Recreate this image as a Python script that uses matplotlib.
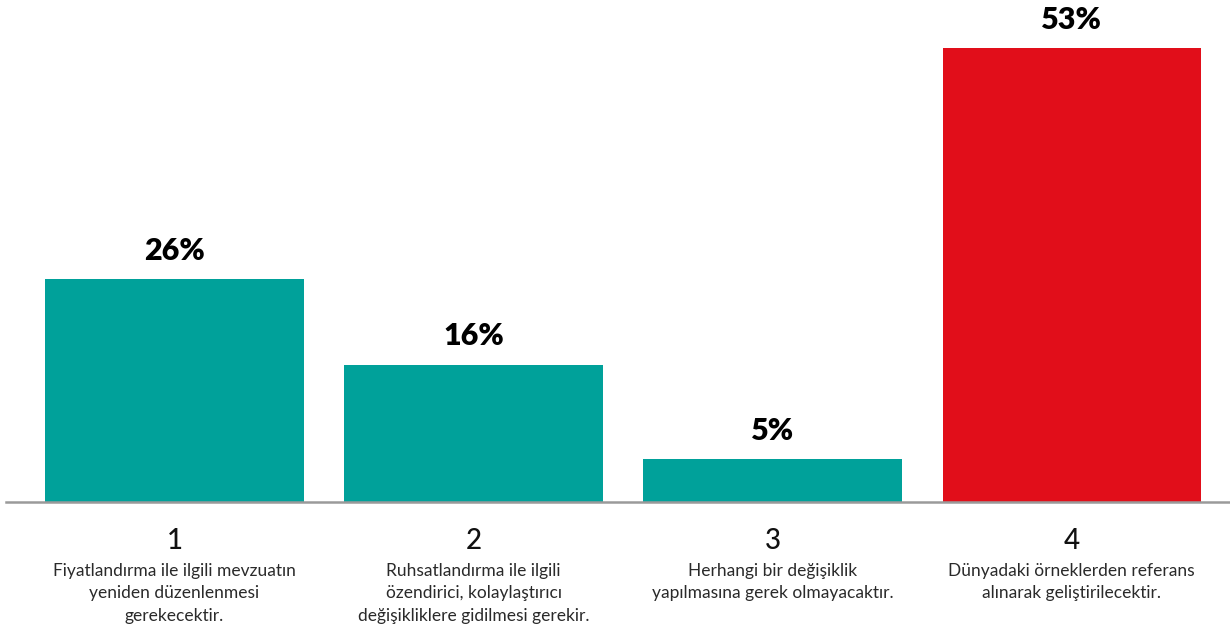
import matplotlib
matplotlib.use("Agg")
import matplotlib.pyplot as plt

# Survey results
categories = ["1", "2", "3", "4"]
values = [26, 16, 5, 53]
descriptions = [
    "Fiyatlandırma ile ilgili mevzuatın\nyeniden düzenlenmesi\ngerekecektir.",
    "Ruhsatlandırma ile ilgili\nözendirici, kolaylaştırıcı\ndeğişikliklere gidilmesi gerekir.",
    "Herhangi bir değişiklik\nyapılmasına gerek olmayacaktır.",
    "Dünyadaki örneklerden referans\nalınarak geliştirilecektir.",
]
colors = ["#00A19A", "#00A19A", "#00A19A", "#E10E1A"]

plt.rcParams["font.family"] = ["Lato", "DejaVu Sans"]

W, H = 1230, 628
fig = plt.figure(figsize=(W / 100, H / 100), dpi=100)
ax = fig.add_axes([6 / W, 126 / H, 1 - 6 / W, 1 - 126 / H])

x = list(range(len(values)))
ax.bar(x, values, width=0.863, color=colors, zorder=2)
ax.set_xlim(-0.5635, 3.53)
ax.set_ylim(0, 502 / 8.566)

for s in ["top", "right", "left"]:
    ax.spines[s].set_visible(False)
ax.spines["bottom"].set_color("#9a9a9a")
ax.spines["bottom"].set_linewidth(1.8)
ax.set_xticks([])
ax.set_yticks([])

for xi, v in zip(x, values):
    ax.annotate(f"{v}%", (xi, v), xytext=(0, 14), textcoords="offset points",
                ha="center", va="baseline", fontsize=22, fontweight="heavy",
                color="#000000")

for xi, c, d in zip(x, categories, descriptions):
    ax.annotate(c, (xi, 0), xycoords=("data", "axes fraction"),
                xytext=(0, -33.5), textcoords="offset points",
                ha="center", va="baseline", fontsize=20, fontweight="medium",
                color="#111111")
    ax.annotate(d, (xi, 0), xycoords=("data", "axes fraction"),
                xytext=(0, -44), textcoords="offset points",
                ha="center", va="top", fontsize=12.5, color="#2a2a2a",
                linespacing=1.48, multialignment="center")

fig.savefig("out.png", dpi=100)
